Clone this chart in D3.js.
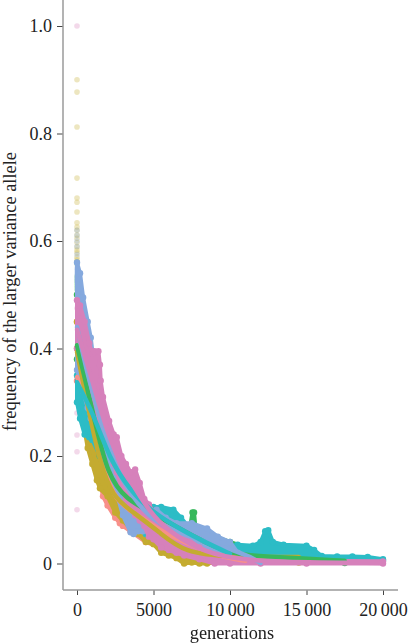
<!DOCTYPE html>
<html>
<head>
<meta charset="utf-8">
<title>frequency of the larger variance allele</title>
<script src="https://cdn.jsdelivr.net/npm/d3@7"></script>
<style>
html,body{margin:0;padding:0;background:#fff;}
svg{display:block;}
text{font-family:"Liberation Serif",serif;fill:#222;}
.marks{filter:blur(0.6px);}
</style>
</head>
<body>
<div id="chart"></div>
<script>
var w=410,h=644;

var xTicks=[0,5000,10000,15000,20000];
var yTicks=[0,0.2,0.4,0.6,0.8,1.0];

// point clouds, read as upper and lower edge per generation
var salmonGen=[0,300,600,1000,1500,1700,2000,2500,2800,3000,3500,4500,6000,8000,10000];
var salmonHi=[.45,.38,.32,.25,.2,.18,.16,.13,.115,.10,.09,.07,.05,.03,.01];
var salmonLo=[.34,.28,.24,.2,.15,.125,.108,.085,.075,.07,.06,.04,.025,.012,.004];

var goldGen=[0,300,700,1000,1300,1500,2000,2500,3000,3500,4000,4500,5000,5500,6000,6500,7000,7500,8000,8500,9000,14500];
var goldHi=[.45,.40,.33,.28,.24,.20,.17,.14,.11,.09,.08,.07,.06,.05,.04,.03,.03,.02,.02,.01,.01,.004];
var goldLo=[.40,.28,.215,.185,.155,.14,.125,.095,.08,.065,.055,.04,.036,.02,.015,.01,0,.002,0,0,.002,.002];

var greenGen=[0,300,600,1000,1500,2000,3000,4000,5000,6000,6800,7100,7400,7550,7650,7750,8500,9000,10000,12000,15000,17500];
var greenHi=[.50,.40,.36,.29,.22,.18,.13,.105,.09,.08,.055,.07,.07,.095,.095,.065,.05,.05,.04,.02,.01,.005];
var greenLo=[.38,.35,.31,.26,.20,.16,.12,.09,.07,.05,.04,.045,.05,.055,.055,.05,.03,.025,.01,.004,.002,.001];

var tealGen=[0,200,500,800,1000,1500,2000,3000,4000,4500,5000,5500,6300,6800,7500,8500,9500,10500,11500,12000,12300,12500,12800,13500,15000,15500,16000,17000,18000,19000,20000];
var tealHi=[.35,.33,.30,.27,.25,.22,.18,.12,.09,.10,.105,.105,.10,.085,.06,.04,.03,.035,.033,.04,.06,.062,.04,.035,.033,.025,.014,.013,.013,.012,.008];
var tealLo=[.3,.27,.24,.235,.23,.2,.165,.11,.07,.055,.05,.07,.06,.05,.04,.025,.012,.006,.006,.006,.008,.008,.006,.006,.006,.006,.006,.006,.006,.006,.006];

var blueGen=[0,200,400,700,900,1400,1800,2200,2600,3000,3500,3700,4000,4300,4700,5200,5800,6500,7500,8500,9200,10000,10500];
var blueHi=[.56,.54,.495,.45,.42,.30,.25,.21,.18,.155,.125,.115,.10,.10,.09,.10,.085,.075,.075,.065,.05,.04,.02];
var blueLo=[.36,.34,.32,.29,.27,.23,.20,.165,.13,.09,.058,.055,.06,.06,.06,.055,.05,.04,.03,.025,.015,.015,.01];

var pinkGen=[0,200,500,800,1000,1150,1400,1500,1550,1700,2100,2400,2600,2900,3200,3500,3800,4100,4400,4700,5000,5500,6000,6500,7000,8000,9000,10000,12000,15000,20000];
var pinkHi=[.49,.48,.45,.41,.39,.395,.395,.37,.34,.31,.265,.24,.235,.20,.185,.17,.175,.15,.12,.11,.095,.08,.07,.055,.05,.03,.015,.012,.006,.005,.004];
var pinkLo=[.40,.39,.36,.33,.31,.30,.28,.27,.265,.25,.21,.185,.17,.14,.12,.10,.09,.08,.07,.05,.045,.03,.025,.02,.015,.008,0,0,0,0,0];

// single pale points in the column at generation 0
var goldEarly=[.90,.877,.812,.717,.68,.672,.654,.634,.626,.62,.611,.605,.597,.589,.583,.578,.57,.565,.561];
var greenEarly=[.561,.557,.534,.528,.522,.516,.51];
var blueEarly=[.62,.61,.60,.59,.575,.56,.55,.545,.54,.535,.53,.525];
var pinkEarly=[1.0,.475,.28,.239,.208,.10];

// smoothed fits
var salmonFitGen=[0,1000,1700,2500,4000,5500,7000,9000,11000];
var salmonFit=[.347,.285,.18,.115,.09,.06,.04,.015,.005];
var goldFitGen=[0,800,1500,2350,3450,5450,7000,10000,14500];
var goldFit=[.394,.28,.187,.124,.10,.057,.02,.012,.012];
var greenFitGen=[0,1050,2000,3300,4800,7600,10000,13000,17500];
var greenFit=[.406,.28,.161,.118,.096,.05,.016,.012,.005];
var tealFitGen=[0,1050,2150,3450,4800,6950,8500,10000];
var tealFit=[.337,.28,.193,.137,.098,.06,.038,.018];
var blueFitGen=[0,650,1500,2600,4100,5200,7800,10900,12000];
var blueFit=[.44,.355,.27,.168,.106,.075,.044,.02,.001];
var pinkFitGen=[0,1050,2150,3450,4800,5900,8000,10000,13000,20000];
var pinkFit=[.435,.336,.225,.155,.094,.062,.025,.01,.002,.001];

var svg=d3.select('#chart').append('svg').attr('width',w).attr('height',h);

var x=d3.scaleLinear().domain([0,20000]).range([77,383]);
var y=d3.scaleLinear().domain([0,1]).range([563.5,26]);

var marks=svg.append('g').attr('class','marks');

var area=d3.area()
  .x(function(d){return x(d.g);})
  .y0(function(d){return y(d.lo);})
  .y1(function(d){return y(d.hi);})
  .curve(d3.curveLinear);

var line=d3.line()
  .x(function(d){return x(d.g);})
  .y(function(d){return y(d.v);})
  .curve(d3.curveBasis);

function band(gens,hi,lo,col){
  var rows=gens.map(function(g,i){return {g:g,hi:hi[i],lo:lo[i]};});
  marks.append('path').datum(rows)
    .attr('d',area)
    .attr('fill',col)
    .attr('stroke',col)
    .attr('stroke-width',4)
    .attr('stroke-linejoin','round');
  var edge=rows.map(function(d){return {g:d.g,v:d.hi};})
    .concat(rows.map(function(d){return {g:d.g,v:d.lo};}));
  marks.append('g').selectAll('circle').data(edge).enter().append('circle')
    .attr('cx',function(d){return x(d.g);})
    .attr('cy',function(d){return y(d.v);})
    .attr('r',3.2)
    .attr('fill',col);
}

function early(vals,col){
  marks.append('g').selectAll('circle').data(vals).enter().append('circle')
    .attr('cx',x(0))
    .attr('cy',function(d){return y(d);})
    .attr('r',2.8)
    .attr('fill',col)
    .attr('opacity',0.3);
}

function fit(gens,vals,col){
  var rows=gens.map(function(g,i){return {g:g,v:vals[i]};});
  marks.append('path').datum(rows)
    .attr('d',line)
    .attr('fill','none')
    .attr('stroke',col)
    .attr('stroke-width',4.5)
    .attr('stroke-linecap','round');
}

var salmon='#f8908a',gold='#c4ab30',green='#38b85c',teal='#2cbcc6',blue='#85a9de',pink='#d681bb';

early(goldEarly,gold);
early(greenEarly,green);
early(blueEarly,blue);
early(pinkEarly,pink);

band(salmonGen,salmonHi,salmonLo,salmon);
band(goldGen,goldHi,goldLo,gold);
band(greenGen,greenHi,greenLo,green);
band(tealGen,tealHi,tealLo,teal);
band(blueGen,blueHi,blueLo,blue);
band(pinkGen,pinkHi,pinkLo,pink);

fit(salmonFitGen,salmonFit,salmon);
fit(goldFitGen,goldFit,gold);
fit(greenFitGen,greenFit,green);
fit(blueFitGen,blueFit,blue);
fit(tealFitGen,tealFit,teal);
fit(pinkFitGen,pinkFit,pink);

// axes
var xAxis=d3.axisBottom(x).tickValues(xTicks).tickSize(5).tickPadding(8)
  .tickFormat(function(d){return d<10000?String(d):String(d).slice(0,-3)+'\u2009'+String(d).slice(-3);});
var yAxis=d3.axisLeft(y).tickValues(yTicks).tickSize(6).tickPadding(5)
  .tickFormat(d3.format('.1f'));

var gx=svg.append('g').attr('transform','translate(0,590)').call(xAxis);
var gy=svg.append('g').attr('transform','translate(63,0)').call(yAxis);
gy.selectAll('text').filter(function(d){return d===0;}).text('0');

gx.select('.domain').remove();
gy.select('.domain').remove();
svg.append('line').attr('x1',63).attr('x2',398).attr('y1',590).attr('y2',590).attr('stroke','#9a9a9a').attr('stroke-width',1.5);
svg.append('line').attr('x1',63).attr('x2',63).attr('y1',0).attr('y2',590).attr('stroke','#9a9a9a').attr('stroke-width',1.5);

svg.selectAll('.tick line').attr('stroke','#444').attr('stroke-width',1);
svg.selectAll('.tick text').attr('font-size',18).attr('font-family','Liberation Serif').attr('fill','#222');

svg.append('text').attr('x',232).attr('y',639).attr('text-anchor','middle').attr('font-size',18.3).text('generations');
svg.append('text').attr('transform','translate(16,291.5) rotate(-90)').attr('text-anchor','middle').attr('font-size',18.4).text('frequency of the larger variance allele');
</script>
</body>
</html>
